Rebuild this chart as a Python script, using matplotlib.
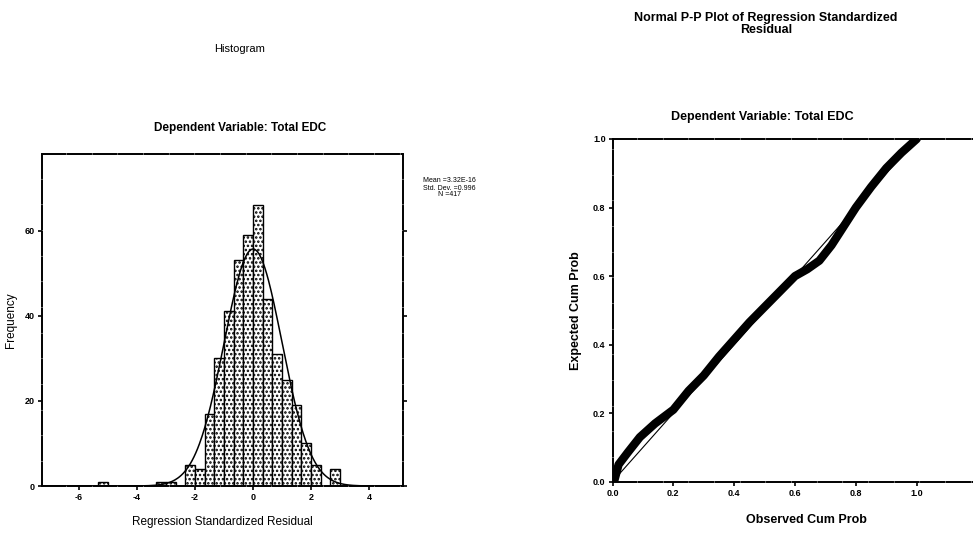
import numpy as np
import matplotlib
matplotlib.use("Agg")
import matplotlib.pyplot as plt

plt.rcParams['font.family'] = ['Liberation Sans', 'DejaVu Sans']
plt.rcParams['hatch.linewidth'] = 1.2

# ---- Histogram data (bin width 1/3) ----
bin_left_edges = [-16/3, -10/3, -3, -7/3, -2, -5/3, -4/3, -1, -2/3, -1/3,
                  0, 1/3, 2/3, 1, 4/3, 5/3, 2, 7/3, 8/3]
bin_counts = [1, 1, 1, 5, 4, 17, 30, 41, 53, 59,
              66, 44, 31, 25, 19, 10, 5, 0, 4]
bin_width = 1/3
res_mean = 3.32e-16
res_sd = 0.996
res_n = 417
hist_xticks = [-6, -4, -2, 0, 2, 4]
hist_yticks = [0, 20, 40, 60]

# ---- P-P plot data (observed, expected) ----
pp_observed = [0.005, 0.02, 0.05, 0.09, 0.14, 0.20, 0.25, 0.30, 0.35,
               0.40, 0.45, 0.50, 0.55, 0.60, 0.64, 0.68, 0.72, 0.76, 0.80,
               0.85, 0.90, 0.95, 1.00]
pp_expected = [0.0, 0.05, 0.085, 0.13, 0.17, 0.21, 0.265, 0.31, 0.365,
               0.415, 0.465, 0.51, 0.555, 0.60, 0.62, 0.645, 0.69, 0.745, 0.80,
               0.86, 0.915, 0.96, 1.00]
pp_ticks = [0.0, 0.2, 0.4, 0.6, 0.8, 1.0]

fig = plt.figure(figsize=(9.73, 5.39), dpi=100)
W, H = 973, 539

def fx(px):
    return px / W

def fy(py):
    return 1 - py / H

# ---------- Histogram ----------
ax1 = fig.add_axes([fx(42), fy(486), fx(403) - fx(42), fy(154) - fy(486)])
ax1.bar(bin_left_edges, bin_counts, width=bin_width, align='edge',
        facecolor='white', edgecolor='black', linewidth=1.0, hatch='....')
xs = np.linspace(-7.3, 5.2, 400)
curve = res_n * bin_width / (res_sd * np.sqrt(2 * np.pi)) * np.exp(-0.5 * ((xs - res_mean) / res_sd) ** 2)
ax1.plot(xs, curve, color='black', linewidth=1.1)
ax1.set_xlim(-7.28, 5.17)
ax1.set_ylim(0, 78)
ax1.set_xticks(hist_xticks)
ax1.set_xticklabels([str(t) for t in hist_xticks])
ax1.set_yticks(hist_yticks)
ax1.tick_params(axis='both', labelsize=6.5, length=3, width=1.2, direction='out', pad=2)
ax1.tick_params(axis='y', right=True)
for lab in ax1.get_xticklabels() + ax1.get_yticklabels():
    lab.set_fontweight('bold')
for s in ax1.spines.values():
    s.set_linewidth(1.4)
    s.set_linestyle((0, (12, 1.2)))
ax1.set_xlabel('Regression Standardized Residual', fontsize=8.5, labelpad=10)
ax1.set_ylabel('Frequency', fontsize=8.5, labelpad=6)

fig.text(fx(240), fy(49), 'Histogram', ha='center', va='center', fontsize=8)
fig.text(fx(240), fy(128), 'Dependent Variable: Total EDC', ha='center', va='center',
         fontsize=8.5, fontweight='bold')
fig.text(fx(449), fy(188),
         'Mean =%.2E\nStd. Dev. =%.3f\nN =%d' % (res_mean, res_sd, res_n),
         ha='center', va='center', fontsize=5, linespacing=1.0)

# ---------- P-P plot ----------
ax2 = fig.add_axes([fx(612.5), fy(481.7), fx(1000) - fx(612.5), fy(139) - fy(481.7)])
ax2.plot([0, 1], [0, 1], color='black', linewidth=0.8)
ax2.plot(pp_observed, pp_expected, color='black', linewidth=6,
         solid_capstyle='round', solid_joinstyle='round')
ax2.set_xlim(0, (1000 - 612.5) / 304.2)
ax2.set_ylim(0, 1.0)
ax2.set_xticks(pp_ticks)
ax2.set_xticklabels(['%.1f' % t for t in pp_ticks])
ax2.set_yticks(pp_ticks)
ax2.set_yticklabels(['%.1f' % t for t in pp_ticks])
ax2.tick_params(axis='both', labelsize=6.5, length=3, width=1.2, direction='out', pad=2)
for lab in ax2.get_xticklabels() + ax2.get_yticklabels():
    lab.set_fontweight('bold')
for s in ax2.spines.values():
    s.set_linewidth(1.4)
    s.set_linestyle((0, (12, 1.2)))
ax2.set_xlabel('Observed Cum Prob', fontsize=9, labelpad=12, fontweight='bold')
ax2.set_ylabel('Expected Cum Prob', fontsize=9, labelpad=8, fontweight='bold')

fig.text(fx(766), fy(24), 'Normal P-P Plot of Regression Standardized\nResidual',
         ha='center', va='center', fontsize=9, linespacing=1.0, fontweight='bold')
fig.text(fx(762), fy(117), 'Dependent Variable: Total EDC', ha='center', va='center',
         fontsize=9, fontweight='bold')

fig.savefig('out.png', dpi=100)
